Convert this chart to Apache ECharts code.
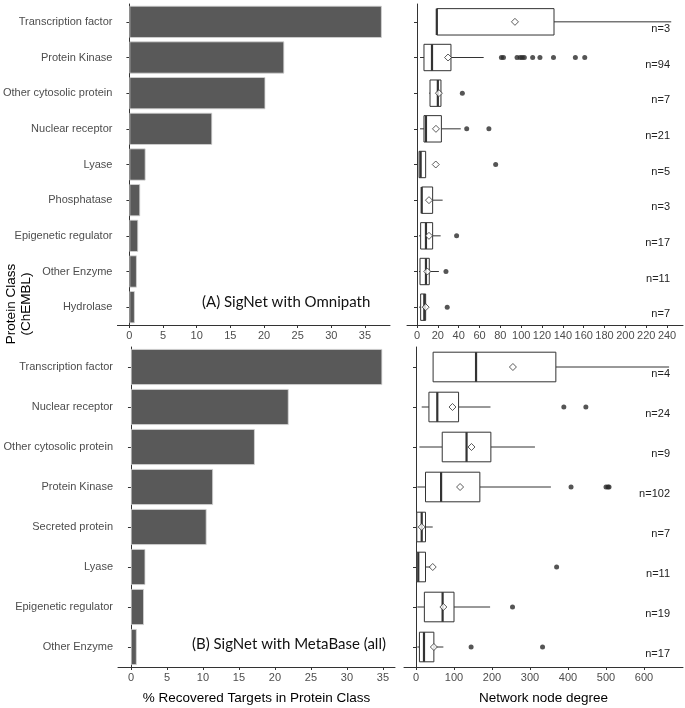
<!DOCTYPE html>
<html>
<head>
<meta charset="utf-8">
<script src="https://cdn.jsdelivr.net/npm/echarts@6/dist/echarts.min.js"></script>
<style>html,body{margin:0;padding:0;background:#fff}#c{width:685px;height:708px}</style>
</head>
<body>
<div id="c"></div>
<script>
// ---------- data ----------
const topCats = ['Transcription factor','Protein Kinase','Other cytosolic protein','Nuclear receptor','Lyase','Phosphatase','Epigenetic regulator','Other Enzyme','Hydrolase'];
const topPct = [37.5, 23.0, 20.2, 12.3, 2.4, 1.6, 1.3, 1.1, 0.8];
const topN = [3, 94, 7, 21, 5, 3, 17, 11, 7];
// [min, q1, median, q3, max]
const topBox = [
  [19, 19, 19, 131.5, 244],
  [2.9, 6.7, 14.4, 32.6, 64],
  [11.7, 12.5, 20, 23, 23],
  [2.9, 6.7, 8.6, 23.4, 42],
  [2, 2, 3.5, 8.3, 8.3],
  [4.5, 4.5, 4.5, 15, 24.6],
  [2, 3.5, 8.6, 15, 22.7],
  [2, 2.9, 8.6, 11.8, 21],
  [2, 3.5, 7, 8.3, 8.3]
];
const topMean = [94, 29.8, 21, 18.2, 18, 11.5, 11.5, 9.9, 8.3];
const topOutliers = [[], [81, 83, 96, 99, 101, 103, 111, 118, 131, 152, 161], [43.5], [47.7, 69], [75.5], [], [38], [27.8], [29]];

const botCats = ['Transcription factor','Nuclear receptor','Other cytosolic protein','Protein Kinase','Secreted protein','Lyase','Epigenetic regulator','Other Enzyme'];
const botPct = [34.9, 21.9, 17.2, 11.4, 10.5, 2.0, 1.8, 0.8];
const botN = [4, 24, 9, 102, 7, 11, 19, 17];
const botBox = [
  [45, 45, 158, 368, 666],
  [15, 34, 56, 112, 196],
  [9, 69, 133, 197, 313],
  [3.5, 25, 66, 168, 355],
  [2, 2, 15, 25, 44],
  [2, 2, 6, 25, 40],
  [3.5, 22, 70, 100, 195],
  [3.5, 9, 21, 47, 72]
];
const botMean = [255, 96, 146, 116, 15, 44, 72, 47];
const botOutliers = [[], [389, 447], [], [408, 500, 505, 508], [], [370], [254], [145, 333]];

const ticksPctTop = [0, 5, 10, 15, 20, 25, 30, 35];
const ticksPctBot = [0, 5, 10, 15, 20, 25, 30, 35];
const ticksDegTop = [0, 20, 40, 60, 80, 100, 120, 140, 160, 180, 200, 220, 240];
const ticksDegBot = [0, 100, 200, 300, 400, 500, 600];

// ---------- style ----------
const FONT = 'Liberation Sans, Arial, sans-serif';
const AX = '#333';
const LBL = '#4d4d4d';

function catAxis(gi, cats, showLabels) {
  return {
    type: 'category', gridIndex: gi, data: cats, inverse: true,
    axisLine: {show: true, lineStyle: {color: AX, width: 1}},
    axisTick: {show: true, alignWithLabel: true, length: 3, lineStyle: {color: AX}},
    axisLabel: {show: showLabels, interval: 0, margin: 5, color: LBL, fontSize: 11, fontFamily: FONT},
    splitLine: {show: false}
  };
}
function valAxis(gi, min, max, ticks, name) {
  const a = {
    type: 'value', gridIndex: gi, min: min, max: max,
    axisLine: {show: true, onZero: false, lineStyle: {color: AX, width: 1}},
    axisTick: {show: true, length: 3, lineStyle: {color: AX}, customValues: ticks},
    axisLabel: {color: LBL, fontSize: 11, fontFamily: FONT, margin: 5, customValues: ticks},
    splitLine: {show: false}
  };
  if (name) {
    a.name = name; a.nameLocation = 'middle'; a.nameGap = 24;
    a.nameTextStyle = {color: '#000', fontSize: 13.5, fontFamily: FONT};
  }
  return a;
}

function boxRender(params, api) {
  const cat = api.value(0);
  const mn = api.value(1), q1 = api.value(2), md = api.value(3), q3 = api.value(4), mx = api.value(5);
  const h = api.size([0, 1])[1] * 0.74;
  const pMin = api.coord([mn, cat]), pQ1 = api.coord([q1, cat]), pMd = api.coord([md, cat]);
  const pQ3 = api.coord([q3, cat]), pMax = api.coord([mx, cat]);
  const y = pMd[1];
  const ls = {stroke: '#333', lineWidth: 1, fill: null};
  return {
    type: 'group',
    children: [
      {type: 'line', shape: {x1: pMin[0], y1: y, x2: pQ1[0], y2: y}, style: ls},
      {type: 'line', shape: {x1: pQ3[0], y1: y, x2: pMax[0], y2: y}, style: ls},
      {type: 'rect', shape: {x: pQ1[0], y: y - h / 2, width: pQ3[0] - pQ1[0], height: h}, style: {stroke: '#333', lineWidth: 1, fill: '#fff'}},
      {type: 'line', shape: {x1: pMd[0], y1: y - h / 2, x2: pMd[0], y2: y + h / 2}, style: {stroke: '#333', lineWidth: 2.2}}
    ]
  };
}
function nRender(params, api) {
  const cat = api.value(0), n = api.value(1);
  const cs = params.coordSys;
  const p = api.coord([0, cat]);
  return {
    type: 'text',
    x: cs.x + cs.width - 13, y: p[1] + 7,
    style: {text: 'n=' + n, align: 'right', verticalAlign: 'middle', fill: '#222', font: '11px ' + FONT}
  };
}

function boxSeries(gi, box) {
  return {type: 'custom', xAxisIndex: gi, yAxisIndex: gi, renderItem: boxRender,
    encode: {x: [1, 2, 3, 4, 5], y: 0}, data: box.map((b, i) => [i].concat(b)), z: 2};
}
function meanSeries(gi, means) {
  return {type: 'scatter', xAxisIndex: gi, yAxisIndex: gi, symbol: 'diamond', symbolSize: 7,
    itemStyle: {color: '#fff', borderColor: '#333', borderWidth: 1}, data: means.map((m, i) => [m, i]), z: 4};
}
function outSeries(gi, outs) {
  const d = [];
  outs.forEach((arr, i) => arr.forEach(v => d.push([v, i])));
  return {type: 'scatter', xAxisIndex: gi, yAxisIndex: gi, symbol: 'circle', symbolSize: 5,
    itemStyle: {color: '#2b2b2b'}, data: d, z: 3};
}
function nSeries(gi, ns) {
  return {type: 'custom', xAxisIndex: gi, yAxisIndex: gi, renderItem: nRender,
    encode: {y: 0}, data: ns.map((n, i) => [i, n]), z: 5};
}
function barSeries(gi, vals) {
  return {type: 'bar', xAxisIndex: gi, yAxisIndex: gi, data: vals, barWidth: '90%',
    itemStyle: {color: '#595959', borderColor: '#d4d4d4', borderWidth: 0.8}};
}

const chart = echarts.init(document.getElementById('c'), null, {renderer: 'canvas'});
chart.setOption({
  animation: false,
  backgroundColor: '#fff',
  grid: [
    {left: 117, top: 4, width: 273, height: 321},
    {left: 407, top: 4, width: 276, height: 321},
    {left: 118, top: 347, width: 277, height: 320},
    {left: 404, top: 347, width: 279, height: 320}
  ],
  xAxis: [
    valAxis(0, -1.78, 38.72, ticksPctTop),
    valAxis(1, -9.6, 255.3, ticksDegTop),
    valAxis(2, -1.8, 36.67, ticksPctBot, '% Recovered Targets in Protein Class'),
    valAxis(3, -31.6, 702.6, ticksDegBot, 'Network node degree')
  ],
  yAxis: [
    catAxis(0, topCats, true),
    catAxis(1, topCats, false),
    catAxis(2, botCats, true),
    catAxis(3, botCats, false)
  ],
  series: [
    barSeries(0, topPct),
    barSeries(2, botPct),
    boxSeries(1, topBox), outSeries(1, topOutliers), meanSeries(1, topMean), nSeries(1, topN),
    boxSeries(3, botBox), outSeries(3, botOutliers), meanSeries(3, botMean), nSeries(3, botN)
  ],
  graphic: [
    {type: 'text', left: 202, top: 295, style: {text: '(A) SigNet with Omnipath', fill: '#111', font: '15px Lato, "Open Sans", sans-serif'}},
    {type: 'text', left: 192, top: 637, style: {text: '(B) SigNet with MetaBase (all)', fill: '#111', font: '15px Lato, "Open Sans", sans-serif'}},
    {type: 'text', x: 19, y: 304, rotation: Math.PI / 2,
      style: {text: 'Protein Class\n(ChEMBL)', align: 'center', verticalAlign: 'middle', lineHeight: 15, fill: '#000', font: '13.5px ' + FONT}}
  ]
});
</script>
</body>
</html>
